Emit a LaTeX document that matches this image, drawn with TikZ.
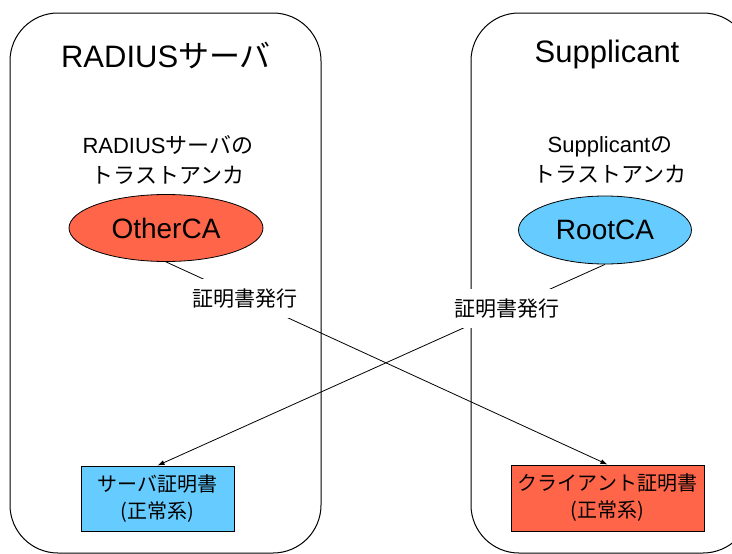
\documentclass[tikz,border=0pt]{standalone}
\usepackage{fontspec}
\setmainfont{Noto Sans CJK JP}
\newfontfamily\lat{Liberation Sans}
\usetikzlibrary{shapes.geometric,arrows.meta}
\definecolor{cared}{HTML}{FF6549}
\definecolor{cablue}{HTML}{66CCFF}
\tikzset{
  group/.style={draw=black, line width=1pt, rounded corners=48pt},
  titletext/.style={font=\fontsize{31}{34}\selectfont, anchor=center},
  subtext/.style={font=\fontsize{22}{30}\selectfont, align=center},
  caell/.style={ellipse, draw=black, line width=0.8pt, inner sep=0pt, font=\lat\fontsize{28}{30}\selectfont},
  certbox/.style={rectangle, draw=black, line width=1pt, inner sep=0pt, align=center, font=\fontsize{20}{27}\selectfont},
  arr/.style={line width=0.8pt, -{Latex[length=7pt,width=5pt]}},
  lab/.style={fill=white, inner xsep=4pt, inner ysep=10pt, font=\fontsize{21}{22}\selectfont}
}
\begin{document}
\begin{tikzpicture}[x=1pt, y=-1pt]
\useasboundingbox (0,0) rectangle (732,554);
\clip (0,0) rectangle (732,554);
\draw[group] (10,13) rectangle (321,553);
\draw[group] (471,13) rectangle (751,553);
\node[titletext] (t1) at (166,56) {{\lat RADIUS}サーバ};
\node[titletext] (t2) at (607,54) {\lat Supplicant};
\node[subtext] (s1) at (168,160) {{\lat RADIUS}サーバの\\トラストアンカ};
\node[subtext] (s2) at (610,160) {{\lat Supplicant}の\\トラストアンカ};
\node[caell, fill=cared, minimum width=194pt, minimum height=67pt] (oca) at (166,228) {OtherCA};
\node[caell, fill=cablue, minimum width=173pt, minimum height=68pt] (rca) at (605,230) {RootCA};
\node[certbox, fill=cablue, minimum width=153pt, minimum height=65pt] (scert) at (157.5,498.5) {サーバ証明書\\(正常系)};
\node[certbox, fill=cared, minimum width=193pt, minimum height=66pt] (ccert) at (607.5,498) {クライアント証明書\\(正常系)};
\draw[arr] (oca.south) -- (ccert.north) node[lab, pos=0.18] (l1) {証明書発行};
\draw[arr] (rca.south) -- (scert.north) node[lab, pos=0.22] (l2) {証明書発行};
\end{tikzpicture}
\end{document}
